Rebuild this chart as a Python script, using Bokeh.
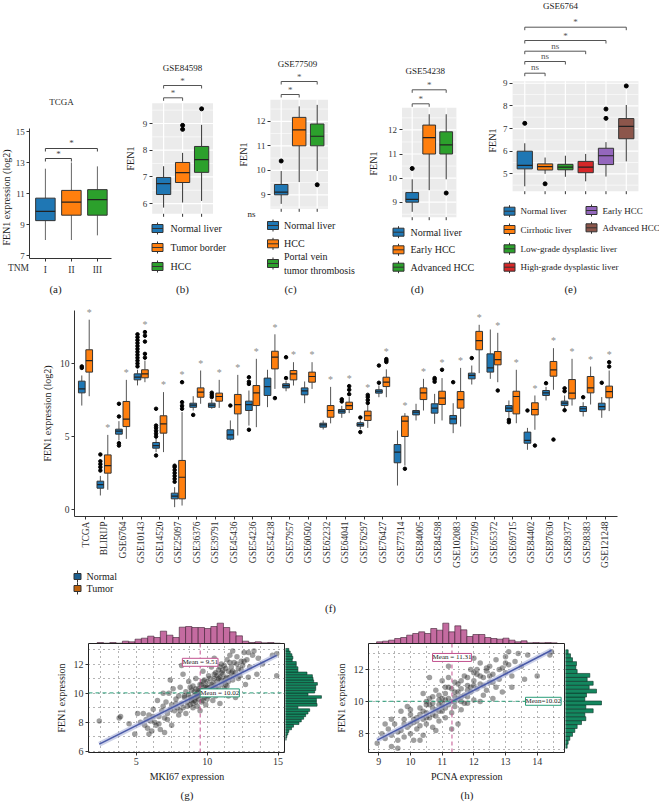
import math
from bokeh.plotting import figure
from bokeh.models import (ColumnDataSource, FixedTicker, Range1d, Title, Label, Span)
from bokeh.layouts import row, column
from bokeh.embed import file_html
from bokeh.resources import INLINE
from bokeh.core.properties import value

FONT = "Liberation Serif"
C_BLUE, C_ORANGE, C_GREEN = "#1f77b4", "#ff7f0e", "#2ca02c"
C_RED, C_PURPLE, C_BROWN = "#d62728", "#9467bd", "#8c564b"
EDGE = "#333333"
PANEL_BG = "#EBEBEB"
PINK, PINK_EDGE, PINK_LINE = "#c46ba0", "#3d1f31", "#c2528f"
GREEN_H, GREEN_EDGE, GREEN_LINE = "#14875f", "#0b3326", "#2a9d78"

# ---------------- (a) TCGA by TNM stage ----------------
a_groups = ["I", "II", "III"]
a_q1 = [9.25, 9.6, 9.6]
a_med = [9.85, 10.45, 10.6]
a_q3 = [10.7, 11.2, 11.25]
a_lo = [8.0, 8.0, 8.3]
a_hi = [12.6, 13.0, 12.75]
a_cmp = [(1, 2), (1, 3)]
a_cmp_lab = ["*", "*"]

# ---------------- (b) GSE84598 ----------------
b_groups = ["Normal liver", "Tumor border", "HCC"]
b_q1 = [6.34, 6.79, 7.17]
b_med = [6.75, 7.16, 7.65]
b_q3 = [6.98, 7.54, 8.14]
b_lo = [5.85, 6.04, 6.1]
b_hi = [7.4, 7.9, 8.95]
b_out_x = [2, 2, 3]
b_out_y = [8.93, 8.78, 9.55]
b_cmp = [(1, 2), (1, 3)]
b_cmp_lab = ["*", "*"]

# ---------------- (c) GSE77509 ----------------
c_groups = ["Normal liver", "HCC", "Portal vein\ntumor thrombosis"]
c_q1 = [9.0, 11.0, 11.0]
c_med = [9.11, 11.65, 11.39]
c_q3 = [9.42, 12.16, 11.89]
c_lo = [8.63, 9.52, 9.97]
c_hi = [9.97, 12.61, 12.67]
c_out_x = [1, 3]
c_out_y = [10.38, 9.41]
c_cmp = [(1, 2), (1, 3)]
c_cmp_lab = ["*", "*"]

# ---------------- (d) GSE54238 ----------------
d_groups = ["Normal liver", "Early HCC", "Advanced HCC"]
d_q1 = [9.0, 11.0, 11.0]
d_med = [9.12, 11.68, 11.38]
d_q3 = [9.4, 12.2, 11.92]
d_lo = [8.6, 9.5, 9.95]
d_hi = [9.95, 12.65, 12.65]
d_out_x = [1, 3]
d_out_y = [10.4, 9.38]
d_cmp = [(1, 2), (1, 3)]
d_cmp_lab = ["*", "*"]

# ---------------- (e) GSE6764 ----------------
e_groups = ["Normal liver", "Cirrhotic liver", "Low-grade dysplastic liver",
            "High-grade dysplastic liver", "Early HCC", "Advanced HCC"]
e_q1 = [5.22, 5.17, 5.18, 5.05, 5.41, 6.55]
e_med = [5.37, 5.32, 5.3, 5.3, 5.8, 7.1]
e_q3 = [6.0, 5.44, 5.42, 5.55, 6.13, 7.44]
e_lo = [4.45, 5.0, 4.87, 4.67, 4.88, 5.55]
e_hi = [6.35, 5.72, 5.8, 5.88, 6.4, 8.04]
e_out_x = [1, 2, 5, 5, 6]
e_out_y = [7.23, 4.56, 7.86, 7.45, 8.88]
e_cmp = [(1, 2), (1, 3), (1, 4), (1, 5), (1, 6)]
e_cmp_lab = ["ns", "ns", "ns", "*", "*"]

# ---------------- (f) pan-dataset normal vs tumor ----------------
f_names = ["TCGA", "BLIRIJP", "GSE6764", "GSE10143", "GSE14520", "GSE25097", "GSE36376",
           "GSE39791", "GSE45436", "GSE54236", "GSE54238", "GSE57957", "GSE60502", "GSE62232",
           "GSE64041", "GSE76297", "GSE76427", "GSE77314", "GSE84005", "GSE84598", "GSE102083",
           "GSE77509", "GSE65372", "GSE69715", "GSE84402", "GSE87630", "GSE89377", "GSE98383",
           "GSE121248"]
n_q1 = [7.99, 1.46, 5.16, 8.88, 4.2, 0.73, 7.0, 7.0, 4.82, 6.78, 7.81, 8.33, 7.85, 5.64, 6.6,
        5.71, 7.97, 3.2, 6.48, 6.6, 5.87, 8.95, 9.41, 6.71, 4.54, 7.81, 7.12, 6.71, 6.83]
n_med = [8.26, 1.71, 5.37, 9.06, 4.38, 0.91, 7.15, 7.15, 5.11, 7.19, 8.42, 8.49, 8.13, 5.8, 6.74,
         5.82, 8.1, 3.93, 6.67, 6.94, 6.21, 9.18, 9.7, 6.94, 4.73, 7.99, 7.28, 6.9, 7.05]
n_q3 = [8.79, 1.94, 5.5, 9.29, 4.59, 1.12, 7.28, 7.28, 5.46, 7.42, 9.0, 8.61, 8.33, 5.91, 6.85,
        5.94, 8.2, 4.45, 6.78, 7.24, 6.44, 9.34, 10.66, 7.12, 5.3, 8.15, 7.42, 7.05, 7.28]
n_lo = [7.12, 0.96, 4.73, 8.5, 3.93, 0.16, 6.78, 6.9, 4.73, 5.75, 7.01, 8.1, 7.28, 5.48, 6.28,
        5.5, 7.69, 1.64, 6.1, 5.87, 5.23, 8.56, 8.95, 6.3, 4.09, 7.47, 6.9, 6.37, 6.28]
n_hi = [9.18, 2.3, 6.05, 9.57, 4.9, 1.53, 7.76, 7.5, 6.1, 8.15, 9.57, 8.8, 8.77, 6.1, 7.1,
        6.1, 8.5, 5.41, 7.24, 7.92, 7.28, 9.86, 12.33, 7.47, 5.59, 8.4, 7.81, 7.35, 7.7]
fn_out_i = [0, 0, 1, 1, 1, 1, 1, 2, 2, 2, 2, 3, 3, 3, 3, 3, 3, 3, 3, 3, 3, 3, 3,
            4, 4, 4, 4, 4, 4, 4, 5, 5, 5, 5, 5, 5, 5, 6, 7, 7, 7, 8, 9, 9, 9, 9,
            11, 11, 14, 14, 15, 15, 16, 16, 19, 19, 19, 20, 21, 23, 23, 24, 25,
            26, 26, 26, 27, 28]
fn_out_y = [9.7, 9.8, 2.67, 2.9, 3.1, 3.3, 3.77, 7.24, 6.37, 4.54, 4.38,
            9.8, 10.0, 10.2, 10.4, 10.6, 10.8, 11.0, 11.2, 11.4, 11.6, 11.8, 12.0,
            5.0, 5.2, 5.4, 5.6, 5.75, 6.9, 3.7, 1.9, 2.1, 2.3, 2.5, 2.7, 2.9, 3.0,
            6.48, 7.7, 7.85, 8.0, 7.12, 8.6, 8.75, 9.06, 5.46, 10.43, 9.0, 7.4, 7.55,
            6.3, 5.3, 9.86, 8.68, 8.75, 8.9, 9.0, 8.72, 10.37, 6.14, 5.98, 6.78, 8.65,
            8.1, 8.3, 6.8, 7.69, 8.68]
t_q1 = [9.41, 2.49, 5.68, 9.02, 5.23, 0.73, 7.69, 7.42, 6.55, 7.12, 9.63, 8.88, 8.72, 6.32, 6.85,
        6.1, 8.42, 5.0, 7.53, 7.19, 6.94, 10.94, 9.91, 6.55, 6.48, 9.13, 7.58, 7.99, 7.65]
t_med = [10.2, 3.01, 6.19, 9.29, 5.87, 2.21, 8.04, 7.74, 7.19, 7.99, 10.43, 9.29, 9.11, 6.78, 7.12,
         6.42, 8.72, 6.05, 7.99, 7.63, 7.53, 11.57, 10.27, 7.74, 6.85, 9.57, 7.97, 8.33, 8.08]
t_q3 = [10.94, 3.74, 7.4, 9.57, 6.42, 3.36, 8.33, 7.97, 7.88, 8.49, 10.84, 9.52, 9.41, 7.12, 7.35,
        6.74, 9.06, 6.39, 8.33, 8.1, 8.08, 12.2, 10.82, 8.1, 7.31, 10.14, 8.9, 9.11, 8.45]
t_lo = [7.76, 1.35, 4.84, 8.72, 3.93, 0.27, 7.24, 6.96, 5.07, 5.64, 8.26, 8.49, 8.26, 5.9, 6.6,
        5.59, 7.69, 3.01, 6.78, 6.1, 5.68, 9.34, 8.72, 5.91, 5.46, 8.2, 7.12, 7.19, 6.74]
t_hi = [13.0, 5.11, 8.88, 10.2, 8.04, 6.67, 9.52, 8.88, 9.22, 10.32, 12.0, 10.09, 10.09, 8.4, 7.7,
        7.2, 9.6, 6.6, 8.95, 9.0, 9.7, 12.65, 12.1, 9.57, 7.81, 11.05, 10.32, 9.79, 9.52]
ft_out_i = [3, 3, 3, 3, 3, 5, 5, 5, 5, 10, 14, 14, 14, 15, 15, 15, 15, 16, 16, 16,
            17, 19, 22, 24, 25, 28, 28]
ft_out_y = [10.4, 10.66, 11.5, 11.9, 12.15, 8.72, 7.35, 7.1, 6.9, 7.63, 7.9, 8.2, 8.45,
            7.3, 7.5, 7.7, 7.85, 10.1, 10.2, 10.3, 2.79, 9.57, 8.15, 4.38, 4.79, 9.79, 10.09]
f_legend = ["Normal", "Tumor"]

# ---------------- (g) MKI67 vs FEN1 ----------------
g_x = [2.4, 3.8, 3.9, 4.5, 4.9, 5.1, 5.3, 5.5, 5.6, 5.7, 5.8, 5.9, 6.0, 6.1, 6.2, 6.3, 6.4, 6.5,
       6.6, 6.7, 6.8, 6.9, 7.0, 7.0, 7.1, 7.2, 7.3, 7.4, 7.5, 7.5, 7.6, 7.7, 7.8, 7.9, 8.0, 8.0,
       8.1, 8.2, 8.3, 8.3, 8.4, 8.5, 8.5, 8.6, 8.7, 8.7, 8.8, 8.9, 8.9, 9.0, 9.0, 9.1, 9.2, 9.2,
       9.3, 9.3, 9.4, 9.4, 9.5, 9.5, 9.6, 9.6, 9.7, 9.7, 9.8, 9.8, 9.9, 9.9, 10.0, 10.0, 10.1,
       10.1, 10.2, 10.3, 10.3, 10.4, 10.4, 10.5, 10.5, 10.6, 10.6, 10.7, 10.8, 10.8, 10.9, 11.0,
       11.0, 11.1, 11.2, 11.2, 11.3, 11.4, 11.4, 11.5, 11.6, 11.6, 11.7, 11.8, 11.9, 12.0, 12.1,
       12.2, 12.3, 12.4, 12.5, 12.6, 12.7, 12.8, 13.0, 13.2, 13.5, 13.9, 14.6, 14.9, 12.0, 11.5,
       10.9, 8.2, 7.4, 6.9, 10.5, 11.8, 12.9, 9.1, 9.5, 9.8, 10.2, 9.6, 8.8, 10.0, 9.3, 13.3,
       12.9, 13.6, 14.9,
       8.6, 8.9, 9.1, 9.2, 9.4, 9.6, 9.7, 9.9, 10.1, 10.2, 10.4, 10.6, 10.7, 10.9, 11.1, 11.3,
       11.5, 11.7, 11.9, 12.1, 8.4, 8.8, 9.0, 9.3, 9.5, 9.8, 10.0, 10.3, 10.5, 10.8, 11.0, 11.2,
       11.4, 11.6, 11.8, 12.2, 12.4, 7.8, 8.1, 7.2, 6.6, 6.2, 5.9, 10.6, 11.0, 9.7, 9.2, 10.9,
       11.3, 12.6]
g_y = [8.1, 8.3, 8.4, 7.9, 7.2, 8.6, 8.0, 8.6, 7.8, 8.2, 7.6, 8.5, 8.1, 7.4, 8.9, 8.0, 7.8, 9.5,
       8.4, 7.5, 8.8, 9.1, 8.3, 7.3, 9.4, 8.6, 10.0, 8.9, 9.2, 7.8, 10.3, 8.8, 9.6, 9.0, 9.8, 8.5,
       10.4, 9.3, 9.0, 11.3, 9.7, 10.1, 8.6, 9.4, 9.9, 10.8, 9.2, 10.2, 9.6, 9.0, 10.5, 9.8, 9.4,
       11.0, 10.0, 9.1, 9.6, 10.3, 9.9, 8.8, 10.6, 9.4, 10.1, 11.5, 9.7, 10.4, 10.0, 9.2, 10.8,
       9.6, 10.3, 11.2, 9.9, 10.6, 11.8, 10.2, 9.5, 11.0, 10.5, 11.4, 10.0, 10.8, 11.6, 10.3,
       11.1, 10.6, 12.0, 11.3, 10.8, 11.9, 11.0, 12.3, 10.5, 11.5, 11.1, 12.6, 11.8, 10.9, 12.1,
       11.4, 12.5, 11.7, 11.2, 12.2, 11.9, 12.8, 10.6, 12.3, 11.8, 12.6, 11.3, 12.0, 12.6, 11.2,
       9.7, 9.8, 9.3, 11.9, 10.9, 10.0, 12.4, 12.9, 12.8, 9.5, 10.2, 9.9, 10.4, 9.9, 9.7, 10.1,
       9.8, 12.9, 11.1, 12.4, 12.7,
       9.1, 9.5, 10.1, 9.7, 10.0, 10.2, 9.5, 10.5, 9.8, 11.0, 10.7, 10.4, 11.2, 10.0, 11.6, 10.6,
       10.8, 11.4, 11.2, 12.0, 9.8, 10.4, 9.3, 9.9, 10.6, 10.9, 10.4, 10.1, 11.3, 11.0, 11.4, 10.3,
       11.1, 12.1, 11.5, 11.0, 11.6, 9.3, 8.8, 8.2, 7.9, 8.4, 7.2, 9.8, 10.9, 10.8, 10.3, 11.8,
       11.7, 12.2]
g_fit_x = [2.4, 14.9]
g_fit_y = [6.5, 12.6]
g_mean_x, g_mean_y = 9.51, 10.02
g_xhist = [3, 1, 3, 1, 7, 5, 13, 16, 22, 18, 37, 25, 18, 49, 51, 48, 48, 45, 51, 61, 48, 35,
           23, 7, 3, 5, 2, 3, 1]
g_xhist_start, g_xhist_w = 2.25, 0.445
g_yhist = [2, 4, 7, 10, 18, 24, 40, 47, 54, 60, 67, 72, 37, 94, 92, 92, 107, 67, 87, 90, 90,
           95, 84, 82, 80, 64, 37, 37, 32, 32, 20, 22, 19, 14, 10]
g_yhist_start, g_yhist_w = 6.77, 0.18

# ---------------- (h) PCNA vs FEN1 ----------------
h_x = [8.95, 9.1, 9.2, 9.3, 9.4, 9.4, 9.5, 9.6, 9.6, 9.7, 9.8, 9.8, 9.9, 10.0, 10.0, 10.1, 10.1,
       10.2, 10.2, 10.3, 10.3, 10.4, 10.4, 10.5, 10.5, 10.6, 10.6, 10.7, 10.7, 10.8, 10.8, 10.9,
       10.9, 11.0, 11.0, 11.0, 11.1, 11.1, 11.2, 11.2, 11.3, 11.3, 11.3, 11.4, 11.4, 11.5, 11.5,
       11.6, 11.6, 11.7, 11.7, 11.8, 11.8, 11.9, 11.9, 12.0, 12.0, 12.1, 12.1, 12.2, 12.2, 12.3,
       12.3, 12.4, 12.5, 12.5, 12.6, 12.7, 12.7, 12.8, 12.9, 13.0, 13.0, 13.1, 13.2, 13.3, 13.4,
       13.5, 13.7, 14.0, 14.4, 14.45, 9.9, 10.4, 10.6, 10.8, 11.5, 12.6, 12.9, 11.2, 13.6, 9.4,
       10.0, 11.1, 11.6, 12.4, 10.3, 9.7, 12.0, 13.2, 10.9, 11.4, 11.0, 10.7, 11.8, 12.2, 9.2,
       10.5, 13.1,
       10.2, 10.4, 10.5, 10.6, 10.7, 10.8, 10.9, 11.0, 11.1, 11.2, 11.3, 11.4, 11.5, 11.6, 11.7,
       11.8, 11.9, 12.0, 12.1, 12.2, 12.3, 12.4, 12.6, 12.8, 13.0, 9.6, 9.8, 10.0, 10.1, 10.3,
       10.5, 10.7, 10.9, 11.1, 11.2, 11.4, 11.6, 11.8, 12.0, 12.5]
h_y = [7.4, 8.0, 7.7, 8.3, 7.2, 7.9, 8.6, 7.6, 7.1, 8.2, 8.9, 7.8, 8.4, 9.2, 8.0, 8.7, 7.6,
       9.0, 8.3, 9.6, 8.5, 8.9, 7.9, 9.3, 8.6, 10.2, 9.0, 8.4, 9.6, 9.1, 10.7, 9.8, 8.8, 10.2,
       9.4, 11.3, 9.0, 10.5, 9.8, 10.9, 10.0, 9.3, 8.3, 10.6, 9.7, 11.1, 10.2, 9.5, 10.8, 10.4,
       11.6, 9.9, 11.0, 10.6, 12.0, 11.3, 10.1, 11.7, 10.8, 11.1, 12.4, 11.5, 10.4, 11.9, 11.2,
       12.2, 11.7, 10.9, 12.6, 11.4, 12.1, 11.8, 12.8, 12.3, 11.6, 12.5, 13.0, 12.2, 12.9, 11.6,
       12.9, 13.1, 9.7, 10.5, 11.5, 8.2, 8.6, 10.2, 10.6, 12.2, 11.4, 8.9, 8.6, 9.6, 10.0, 10.7,
       7.6, 9.4, 12.7, 10.9, 10.1, 10.3, 9.9, 9.9, 10.3, 10.0, 8.6, 10.0, 13.1,
       8.8, 9.4, 9.0, 9.8, 10.3, 9.5, 10.4, 9.7, 10.9, 10.2, 10.8, 10.0, 10.6, 11.3, 9.9,
       11.5, 10.9, 11.0, 12.0, 11.6, 11.0, 12.1, 11.2, 12.0, 12.4, 8.1, 8.6, 9.5, 8.9, 9.2,
       9.8, 9.2, 9.4, 10.1, 11.5, 11.2, 10.3, 10.7, 11.8, 11.6]
h_fit_x = [8.95, 14.45]
h_fit_y = [7.6, 13.2]
h_mean_x, h_mean_y = 11.31, 10.02
h_xhist = [5, 7, 10, 15, 18, 25, 30, 35, 30, 45, 40, 61, 35, 53, 41, 21, 27, 27, 18, 15, 13,
           16, 10, 5, 8, 2, 3, 2, 3, 2]
h_xhist_start, h_xhist_w = 8.93, 0.19
h_yhist = [5, 8, 13, 21, 28, 35, 48, 61, 58, 83, 61, 108, 58, 63, 93, 71, 83, 65, 73, 35, 31,
           33, 21, 15, 8]
h_yhist_start, h_yhist_w = 7.1, 0.245

# page geometry (the page renders from the window's top-left corner)
TOP_Y0, TOP_Y1 = 0, 300
TOP_H = TOP_Y1 - TOP_Y0


def style_axis(ax, fs="9px"):
    ax.major_label_text_font = FONT
    ax.major_label_text_font_size = fs
    ax.major_label_text_color = "#333333"
    ax.axis_label_text_font = FONT
    ax.axis_label_text_font_size = "10px"
    ax.axis_label_text_font_style = "normal"
    ax.axis_label_text_color = "#1a1a1a"
    ax.major_tick_out = 3
    ax.major_tick_in = 0
    ax.minor_tick_out = 0
    ax.minor_tick_in = 0
    ax.major_label_standoff = 2
    ax.axis_label_standoff = 4
    ax.major_tick_line_color = "#333333"
    ax.axis_line_color = "#333333"


def add_boxes(p, xs, q1, med, q3, lo, hi, colors, width, whisk="#333333", lw=1):
    src = ColumnDataSource(dict(x=xs, q1=q1, med=med, q3=q3, lo=lo, hi=hi, color=colors,
                                xl=[x - width / 2 for x in xs], xr=[x + width / 2 for x in xs]))
    p.segment('x', 'q3', 'x', 'hi', source=src, line_color=whisk, line_width=1)
    p.segment('x', 'lo', 'x', 'q1', source=src, line_color=whisk, line_width=1)
    r = p.vbar(x='x', width=width, bottom='q1', top='q3', fill_color='color', line_color=EDGE,
               line_width=lw, source=src)
    p.segment('xl', 'med', 'xr', 'med', source=src, line_color="#222222", line_width=1.2)
    return r


def txt(p, xs, ys, texts, size, color="#1a1a1a", align="center", angle=0.0):
    p.text(x=xs, y=ys, text=texts, text_font=value(FONT), text_font_size=value(size),
           text_color=color, text_align=align, text_baseline="middle", angle=angle)


def brackets(p, xm, ym, cmps, labels, line_pgs, text_pgs, color, size):
    bx0, by0, bx1, by1 = [], [], [], []
    for (i, j), lpg in zip(cmps, line_pgs):
        yl, yt = ym(lpg), ym(lpg + 3)
        bx0 += [i, i, j]
        by0 += [yl, yl, yl]
        bx1 += [j, i, j]
        by1 += [yl, yt, yt]
    p.segment(bx0, by0, bx1, by1, line_color=color, line_width=1)
    txt(p, [(i + j) / 2 for i, j in cmps], [ym(t) for t in text_pgs], labels, size, color=color)


def gg_panel(cfg, labels, q1, med, q3, lo, hi, out_x, out_y, colors, yticks, title, cmps, cmp_labels):
    fig_l, fig_w = cfg["fig"]
    pl, ppx = cfg["px"]
    yref_pg, yref_val, ppu = cfg["yref"]
    xm = lambda pg: 0.4 + (pg - pl) / ppx
    ym = lambda pg: yref_val + (yref_pg - pg) / ppu
    n = len(labels)
    xs = list(range(1, n + 1))
    p = figure(width=fig_w, height=TOP_H,
               x_range=Range1d(xm(fig_l), xm(fig_l + fig_w)), y_range=Range1d(ym(TOP_Y1), ym(TOP_Y0)),
               min_border_left=0, min_border_right=0, min_border_top=0, min_border_bottom=0,
               x_axis_location=None, output_backend="svg", toolbar_location=None)
    p.grid.visible = False
    p.outline_line_color = None
    pb, pt = ym(cfg["panel"][1]), ym(cfg["panel"][0])
    x0, x1 = 0.4, n + 0.6
    p.quad(left=[x0], right=[x1], bottom=[pb], top=[pt], fill_color=PANEL_BG, line_color=None)
    minor = [t + 0.5 for t in [yticks[0] - 1] + list(yticks) if pb < t + 0.5 < pt]
    major = [t for t in yticks if pb < t < pt]
    p.segment(x0=[x0] * len(minor), y0=minor, x1=[x1] * len(minor), y1=minor,
              line_color="white", line_width=0.6)
    p.segment(x0=[x0] * len(major), y0=major, x1=[x1] * len(major), y1=major,
              line_color="white", line_width=1.2)
    p.segment(x0=xs, y0=[pb] * n, x1=xs, y1=[pt] * n, line_color="white", line_width=1.2)
    p.segment(x0=xs, y0=[pb] * n, x1=xs, y1=[ym(cfg["panel"][1] + 3)] * n,
              line_color=EDGE, line_width=1)
    add_boxes(p, xs, q1, med, q3, lo, hi, colors, 0.75)
    p.scatter(out_x, out_y, size=4, color="black")
    ax = p.yaxis[0]
    ax.fixed_location = 0.4
    ax.ticker = FixedTicker(ticks=list(yticks))
    ax.bounds = (pb, pt)
    style_axis(ax)
    ax.axis_line_color = None
    brackets(p, xm, ym, cmps, cmp_labels, cfg["br_pg"], cfg["br_txt_pg"], "#555555", "9px")
    tx, ty = cfg["title"]
    txt(p, [xm(tx)], [ym(ty)], [title], "9px")
    cx, cy = cfg["cap"]
    txt(p, [xm(cx)], [ym(cy)], [cfg["caption"]], "11px")
    lx_, ly_ = cfg["ylab"]
    txt(p, [xm(lx_)], [ym(ly_)], ["FEN1"], "10px", angle=math.pi / 2)
    if "extra" in cfg:
        ex, ey, et = cfg["extra"]
        txt(p, [xm(ex)], [ym(ey)], [et], "9px")
    # legend keys
    iw, ih = 11 / ppx, 8 / ppu
    lx = [xm(dx) for dx, _ in cfg["legend"]]
    ly = [ym(r) for _, r in cfg["legend"]]
    p.segment(lx, [ym(r + 6) for _, r in cfg["legend"]], lx, [ym(r - 6) for _, r in cfg["legend"]],
              line_color=EDGE)
    p.rect(x=lx, y=ly, width=iw, height=ih, fill_color=colors, line_color=EDGE)
    p.segment([x - iw / 2 for x in lx], ly, [x + iw / 2 for x in lx], ly, line_color=EDGE)
    txt(p, [x + cfg.get("lgap", 12) / ppx for x in lx], ly, labels, cfg["lfs"], align="left")
    return p


# ---------------- panel (a) ----------------
A_FIG = (0, 122)
A_PL, A_PPX = 29.3, 26.0
a_xm = lambda pg: 0.4 + (pg - A_PL) / A_PPX
a_ym = lambda pg: 15 + (131 - pg) / 15.5
pa = figure(width=A_FIG[1], height=TOP_H, x_range=Range1d(a_xm(A_FIG[0]), a_xm(A_FIG[0] + A_FIG[1])),
            y_range=Range1d(a_ym(TOP_Y1), a_ym(TOP_Y0)),
            min_border_left=0, min_border_right=0, min_border_top=0, min_border_bottom=0,
            output_backend="svg", toolbar_location=None)
pa.grid.visible = False
pa.outline_line_color = None
a_xs = [1, 2, 3]
add_boxes(pa, a_xs, a_q1, a_med, a_q3, a_lo, a_hi, [C_BLUE, C_ORANGE, C_GREEN], 0.75, whisk="#666666")
brackets(pa, a_xm, a_ym, a_cmp, a_cmp_lab, [158, 148], [153, 142], "#444444", "9px")
style_axis(pa.yaxis[0])
pa.yaxis.fixed_location = 0.4
pa.yaxis.ticker = FixedTicker(ticks=[7, 9, 11, 13, 15])
pa.yaxis.bounds = (a_ym(258), 15.2)
style_axis(pa.xaxis[0], fs="9.5px")
pa.xaxis.fixed_location = a_ym(258)
pa.xaxis.bounds = (0.4, 3.55)
pa.xaxis.ticker = FixedTicker(ticks=a_xs)
pa.xaxis.major_label_overrides = {k: g for k, g in zip(a_xs, a_groups)}
pa.xaxis.major_label_standoff = 3
txt(pa, [a_xm(61)], [a_ym(101)], ["TCGA"], "9px")
txt(pa, [a_xm(55)], [a_ym(288)], ["(a)"], "11px")
txt(pa, [a_xm(18)], [a_ym(267)], ["TNM"], "9.5px", color="#333333")
txt(pa, [a_xm(6)], [a_ym(197)], ["FEN1 expression (log2)"], "10px", angle=math.pi / 2)

cfg_b = dict(fig=(122, 116), px=(151.7, 19), yref=(123, 9, 26.7), panel=(102.7, 213.3),
             br_pg=[97.3, 85], br_txt_pg=[92, 80], title=(182, 67), cap=(182, 288), ylab=(130, 158),
             caption="(b)", legend=[(157, 228), (157, 247), (157, 266)], lfs="10px", lgap=13)
cfg_c = dict(fig=(238, 126), px=(269.9, 18), yref=(194.3, 9, 24.5), panel=(99.3, 208.3),
             br_pg=[94, 81], br_txt_pg=[89, 76], title=(297, 63.3), cap=(290, 288), ylab=(243, 154),
             caption="(c)", legend=[(272.5, 225), (272.5, 243.3), (272.5, 263)], lfs="10px",
             lgap=11, extra=(251, 213, "ns"))
cfg_d = dict(fig=(364, 113), px=(401.5, 17), yref=(201.7, 9, 24.1), panel=(107.3, 216.7),
             br_pg=[103.3, 89.3], br_txt_pg=[98, 84.5], title=(424.7, 70.7), cap=(416.7, 288.3),
             ylab=(373, 163), caption="(d)", legend=[(398, 231.7), (398, 249.3), (398, 266.7)],
             lfs="10px", lgap=12)
cfg_e = dict(fig=(477, 182), px=(512.1, 20.3), yref=(150.7, 6, 22.65), panel=(80.7, 190.7),
             br_pg=[72.7, 61, 50.7, 40, 26.7], br_txt_pg=[66.5, 55.5, 45, 35, 21.5], title=(560, 5),
             cap=(570, 288.3), ylab=(491.7, 140), caption="(e)",
             legend=[(509, 210.7), (509, 229), (509, 248.3), (509, 266.7), (591, 210), (591, 227.3)],
             lfs="9px", lgap=11)

pb = gg_panel(cfg_b, b_groups, b_q1, b_med, b_q3, b_lo, b_hi, b_out_x, b_out_y,
              [C_BLUE, C_ORANGE, C_GREEN], [6, 7, 8, 9], "GSE84598", b_cmp, b_cmp_lab)
pc = gg_panel(cfg_c, c_groups, c_q1, c_med, c_q3, c_lo, c_hi, c_out_x, c_out_y,
              [C_BLUE, C_ORANGE, C_GREEN], [9, 10, 11, 12], "GSE77509", c_cmp, c_cmp_lab)
pd = gg_panel(cfg_d, d_groups, d_q1, d_med, d_q3, d_lo, d_hi, d_out_x, d_out_y,
              [C_BLUE, C_ORANGE, C_GREEN], [9, 10, 11, 12], "GSE54238", d_cmp, d_cmp_lab)
pe = gg_panel(cfg_e, e_groups, e_q1, e_med, e_q3, e_lo, e_hi, e_out_x, e_out_y,
              [C_BLUE, C_ORANGE, C_GREEN, C_RED, C_PURPLE, C_BROWN], [5, 6, 7, 8, 9],
              "GSE6764", e_cmp, e_cmp_lab)

# ---------------- panel (f) ----------------
F_TOP, F_H, F_W = 300, 318, 659
f_ym = lambda pg: (509 - pg) / 14.6
f_xm = lambda pg: (pg - 85) / 18.57
pf = figure(width=F_W, height=F_H, x_range=Range1d(f_xm(0), f_xm(F_W)),
            y_range=Range1d(f_ym(F_TOP + F_H), f_ym(F_TOP)),
            min_border_left=0, min_border_right=0, min_border_top=0, min_border_bottom=0,
            output_backend="svg", toolbar_location=None)
pf.grid.visible = False
pf.outline_line_color = None
fi = list(range(len(f_names)))
add_boxes(pf, [i - 0.2 for i in fi], n_q1, n_med, n_q3, n_lo, n_hi, [C_BLUE] * len(fi), 0.36,
          whisk="#555555")
add_boxes(pf, [i + 0.2 for i in fi], t_q1, t_med, t_q3, t_lo, t_hi, [C_ORANGE] * len(fi), 0.36,
          whisk="#555555")
pf.scatter([i - 0.2 for i in fn_out_i], fn_out_y, size=3.5, color="black")
pf.scatter([i + 0.2 for i in ft_out_i], ft_out_y, size=3.5, color="black")
star_y = [max([t_hi[i]] + [y for k, y in zip(ft_out_i, ft_out_y) if k == i]) + 0.5 for i in fi]
txt(pf, [i + 0.2 for i in fi], star_y, ["*"] * len(fi), "10px", color="#8c8c8c")
style_axis(pf.yaxis[0], fs="9.5px")
pf.yaxis.fixed_location = f_xm(74)
pf.yaxis.ticker = FixedTicker(ticks=[0, 5, 10])
pf.yaxis.bounds = (f_ym(516), f_ym(310))
style_axis(pf.xaxis[0], fs="9.5px")
pf.xaxis.fixed_location = f_ym(516)
pf.xaxis.bounds = (f_xm(74), f_xm(617))
pf.xaxis.ticker = FixedTicker(ticks=fi)
pf.xaxis.major_label_overrides = {i: nme for i, nme in zip(fi, f_names)}
pf.xaxis.major_label_orientation = math.pi / 2
txt(pf, [f_xm(47)], [f_ym(413)], ["FEN1 expression (log2)"], "10px", angle=math.pi / 2)
txt(pf, [f_xm(330)], [f_ym(607)], ["(f)"], "11px")
# legend keys (f)
fl_x = [f_xm(77), f_xm(77)]
fl_y = [f_ym(576), f_ym(588)]
pf.segment(fl_x, [f_ym(582), f_ym(594)], fl_x, [f_ym(570), f_ym(582)], line_color=EDGE)
pf.rect(x=fl_x, y=fl_y, width=7 / 18.57, height=6 / 14.6, fill_color=["#1b5f8f", "#c0630c"],
        line_color=EDGE)
txt(pf, [f_xm(86), f_xm(86)], fl_y, f_legend, "10px", align="left")


# ---------------- panels (g), (h) ----------------
def scatter_block(sx, sy, xr, yr, mbl, xticks, yticks, xgrid, ygrid, fit_x, fit_y, mx, my,
                  lab1, lab2, xlabel, caption, xh, xh_start, xh_w, yh, yh_start, yh_w, yh_max):
    fw = 197
    sc = figure(width=mbl + fw, height=159, x_range=Range1d(*xr), y_range=Range1d(*yr),
                min_border_left=mbl, min_border_right=0, min_border_top=0, min_border_bottom=49,
                output_backend="svg", toolbar_location=None)
    sc.outline_line_color = "#222222"
    sc.outline_line_width = 1
    sc.xgrid.ticker = FixedTicker(ticks=xgrid)
    sc.ygrid.ticker = FixedTicker(ticks=ygrid)
    sc.grid.grid_line_color = "#444444"
    sc.grid.grid_line_dash = "1 4"
    sc.grid.grid_line_alpha = 0.8
    sc.scatter(sx, sy, size=5.5, fill_color="#2b2b2b", fill_alpha=0.45, line_color=None)
    sc.line(fit_x, fit_y, line_width=5, line_color="#aab3d9", line_alpha=0.6)
    sc.line(fit_x, fit_y, line_width=1.5, line_color="#4a5aa8")
    sc.add_layout(Span(location=mx, dimension="height", line_color=PINK_LINE, line_dash="4 3",
                       line_width=1))
    sc.add_layout(Span(location=my, dimension="width", line_color=GREEN_LINE, line_dash="4 3",
                       line_width=1))
    for (lx, ly, ltxt, lal, lcol) in (lab1, lab2):
        sc.add_layout(Label(x=lx, y=ly, text=ltxt, text_font=FONT, text_font_size="7px",
                            text_align=lal, text_baseline="middle", border_line_color=lcol,
                            background_fill_color="white", text_color="#222222"))
    style_axis(sc.xaxis[0], fs="10px")
    style_axis(sc.yaxis[0], fs="10px")
    sc.xaxis.ticker = FixedTicker(ticks=xticks)
    sc.yaxis.ticker = FixedTicker(ticks=yticks)
    sc.xaxis.axis_line_color = None
    sc.yaxis.axis_line_color = None
    sc.xaxis.axis_label = xlabel
    sc.yaxis.axis_label = "FEN1 expression"
    sc.xaxis.axis_label_standoff = 3
    sc.add_layout(Title(text=caption, align="center", text_font=FONT, text_font_size="11px",
                        text_font_style="normal", text_color="#1a1a1a", standoff=4), "below")
    th = figure(width=mbl + fw, height=25, x_range=sc.x_range, y_range=Range1d(0, 75),
                min_border_left=mbl, min_border_right=0, min_border_top=0, min_border_bottom=0,
                x_axis_location=None, y_axis_location=None,
                output_backend="svg", toolbar_location=None)
    th.grid.visible = False
    th.outline_line_color = None
    th.vbar(x=[xh_start + xh_w * (k + 0.5) for k in range(len(xh))], width=xh_w, bottom=0, top=xh,
            fill_color=PINK, line_color=PINK_EDGE, line_width=0.6)
    rh = figure(width=45, height=159, x_range=Range1d(0, yh_max), y_range=sc.y_range,
                min_border_left=0, min_border_right=0, min_border_top=0, min_border_bottom=49,
                x_axis_location=None, y_axis_location=None,
                output_backend="svg", toolbar_location=None)
    rh.grid.visible = False
    rh.outline_line_color = None
    rh.hbar(y=[yh_start + yh_w * (k + 0.5) for k in range(len(yh))], height=yh_w, left=0, right=yh,
            fill_color=GREEN_H, line_color=GREEN_EDGE, line_width=0.6)
    return column(th, row(sc, rh))


gblock = scatter_block(g_x, g_y, (1.64, 15.52), (5.93, 13.41), 88, [5, 10, 15], [6, 8, 10, 12],
                       [2.5 + 1.25 * k for k in range(11)], [6 + k for k in range(8)],
                       g_fit_x, g_fit_y, g_mean_x, g_mean_y,
                       (g_mean_x, 12.12, "Mean = 9.51", "center", PINK_LINE),
                       (g_mean_x, g_mean_y, "Mean = 10.02", "left", GREEN_LINE),
                       "MKI67 expression", "(g)", g_xhist, g_xhist_start, g_xhist_w,
                       g_yhist, g_yhist_start, g_yhist_w, 134)
hblock = scatter_block(h_x, h_y, (8.675, 14.893), (6.83, 13.62), 38, [9, 10, 11, 12, 13, 14],
                       [8, 10, 12], [9 + 0.5 * k for k in range(12)], [7 + k for k in range(7)],
                       h_fit_x, h_fit_y, h_mean_x, h_mean_y,
                       (h_mean_x, 12.75, "Mean = 11.31", "center", PINK_LINE),
                       (13.63, h_mean_y, "Mean=10.02", "left", GREEN_LINE),
                       "PCNA expression", "(h)", h_xhist, h_xhist_start, h_xhist_w,
                       h_yhist, h_yhist_start, h_yhist_w, 135)

layout = column(row(pa, pb, pc, pd, pe), pf, row(gblock, hblock))
open("out.html", "w").write(file_html(layout, INLINE))
